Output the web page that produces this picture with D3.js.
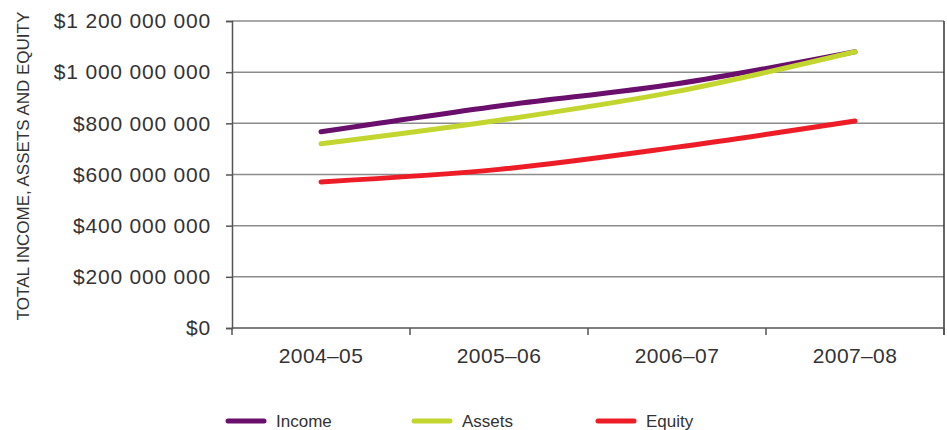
<!DOCTYPE html>
<html>
<head>
<meta charset="utf-8">
<script src="https://cdn.jsdelivr.net/npm/d3@7"></script>
<style>
  html, body { margin: 0; padding: 0; background: #fff; }
  svg { display: block; font-family: "Liberation Sans", Arial, sans-serif; }
</style>
</head>
<body>
<svg id="chart" width="947" height="430"></svg>
<script>
// Financial years shown along the x axis
const years = ["2004–05", "2005–06", "2006–07", "2007–08"];

// Values in dollars for each series
const income = [767000000, 868000000, 955000000, 1080000000];
const assets = [720000000, 812000000, 925000000, 1080000000];
const equity = [571000000, 620000000, 707000000, 809000000];

const seriesNames = ["Income", "Assets", "Equity"];
const seriesColors = ["#6a0f6b", "#c3d62f", "#ed1c27"];

const yTicks = [0, 200000000, 400000000, 600000000, 800000000, 1000000000, 1200000000];
const yTitle = "TOTAL INCOME, ASSETS AND EQUITY";

const series = [income, assets, equity].map((vals, i) => ({
  name: seriesNames[i],
  color: seriesColors[i],
  values: vals
}));

const svg = d3.select("#chart");
const margin = { left: 232, right: 3, top: 21, bottom: 102 };
const W = 947, H = 430;
const plotW = W - margin.left - margin.right;
const plotH = H - margin.top - margin.bottom;

const x = d3.scaleBand().domain(years).range([0, plotW]);
const y = d3.scaleLinear().domain([0, 1200000000]).range([plotH, 0]);

const g = svg.append("g").attr("transform", `translate(${margin.left},${margin.top})`);

// Money format with spaces as thousands separators
const fmt = v => "$" + d3.format(",")(v).replace(/,/g, " ");

// Horizontal gridlines
g.append("g")
  .selectAll("line")
  .data(yTicks.filter(t => t > 0))
  .join("line")
  .attr("x1", 0).attr("x2", plotW)
  .attr("y1", d => y(d)).attr("y2", d => y(d))
  .attr("stroke", "#8c8c8c")
  .attr("stroke-width", 1.5);

// Y axis
const yAxis = g.append("g")
  .call(d3.axisLeft(y).tickValues(yTicks).tickSize(6).tickPadding(15).tickFormat(fmt));
yAxis.select(".domain").attr("stroke", "#555").attr("stroke-width", 1.5);
yAxis.selectAll(".tick line").attr("stroke", "#555").attr("stroke-width", 1.5);
yAxis.selectAll(".tick text")
  .attr("font-size", 21)
  .attr("letter-spacing", "0.8px")
  .attr("fill", "#333")
  .attr("font-family", "Liberation Sans, Arial, sans-serif");

// Right frame line
g.append("line")
  .attr("x1", plotW).attr("x2", plotW)
  .attr("y1", 0).attr("y2", plotH + 7)
  .attr("stroke", "#333").attr("stroke-width", 1.5);

// X axis baseline with ticks at band boundaries
g.append("line")
  .attr("x1", 0).attr("x2", plotW)
  .attr("y1", plotH).attr("y2", plotH)
  .attr("stroke", "#555").attr("stroke-width", 1.5);

const boundaries = years.map(d => x(d)).concat([plotW]);
g.append("g")
  .selectAll("line")
  .data(boundaries)
  .join("line")
  .attr("x1", d => d).attr("x2", d => d)
  .attr("y1", plotH).attr("y2", plotH + 7)
  .attr("stroke", "#555").attr("stroke-width", 1.5);

g.append("g")
  .selectAll("text")
  .data(years)
  .join("text")
  .attr("x", d => x(d) + x.bandwidth() / 2)
  .attr("y", plotH + 35)
  .attr("text-anchor", "middle")
  .attr("font-size", 21)
  .attr("letter-spacing", "0.4px")
  .attr("fill", "#333")
  .text(d => d);

// Series lines
const line = d3.line()
  .x((d, i) => x(years[i]) + x.bandwidth() / 2)
  .y(d => y(d))
  .curve(d3.curveCatmullRom.alpha(0.5));

g.append("g")
  .selectAll("path")
  .data(series)
  .join("path")
  .attr("d", d => line(d.values))
  .attr("fill", "none")
  .attr("stroke", d => d.color)
  .attr("stroke-width", 5)
  .attr("stroke-linecap", "round")
  .attr("stroke-linejoin", "round");

// Y axis title
svg.append("text")
  .attr("transform", "translate(29,166) rotate(-90)")
  .attr("text-anchor", "middle")
  .attr("font-size", 17)
  .attr("fill", "#333")
  .text(yTitle);

// Legend
const legendX = [228, 414, 598];
const legend = svg.append("g")
  .selectAll("g")
  .data(series)
  .join("g")
  .attr("transform", (d, i) => `translate(${legendX[i]},421)`);

legend.append("line")
  .attr("x1", 0).attr("x2", 36)
  .attr("y1", 0).attr("y2", 0)
  .attr("stroke", d => d.color)
  .attr("stroke-width", 5)
  .attr("stroke-linecap", "round");

legend.append("text")
  .attr("x", 48)
  .attr("y", 0)
  .attr("dy", "0.35em")
  .attr("font-size", 17)
  .attr("fill", "#333")
  .text(d => d.name);
</script>
</body>
</html>
